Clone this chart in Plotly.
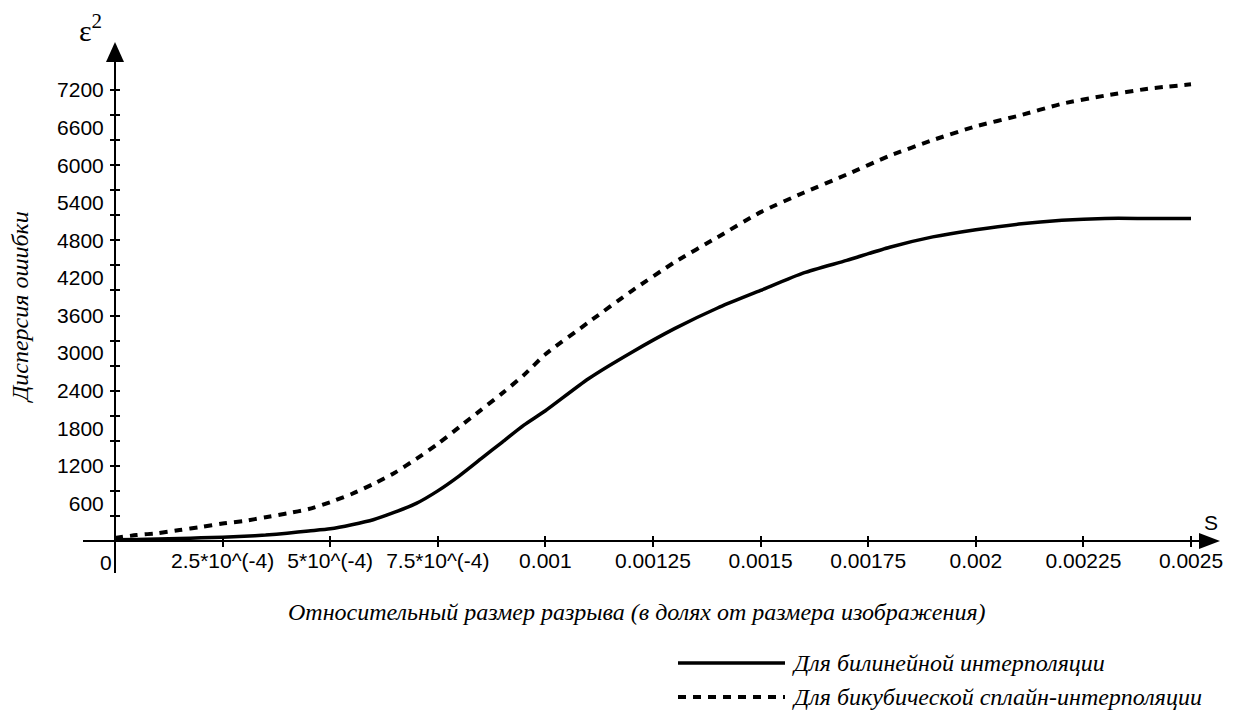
import plotly.graph_objects as go

# ---- data ----
s_values = [0, 0.00005, 0.0001, 0.00015, 0.0002, 0.00025, 0.0003, 0.00035, 0.0004, 0.00045,
            0.0005, 0.00055, 0.0006, 0.00065, 0.0007, 0.00075, 0.0008, 0.00085, 0.0009, 0.00095,
            0.001, 0.0011, 0.0012, 0.0013, 0.0014, 0.0015, 0.0016, 0.0017, 0.0018, 0.0019,
            0.002, 0.0021, 0.0022, 0.0023, 0.0024, 0.0025]
bilinear = [20, 25, 30, 40, 50, 60, 75, 95, 125, 160,
            195, 260, 340, 460, 600, 800, 1040, 1310, 1580, 1850,
            2080, 2590, 3010, 3390, 3720, 4000, 4280, 4480, 4690, 4855,
            4970, 5060, 5120, 5150, 5150, 5150]
bicubic = [50, 95, 125, 175, 225, 280, 320, 380, 440, 510,
           620, 750, 910, 1090, 1310, 1550, 1820, 2090, 2360, 2650,
           2980, 3490, 3990, 4450, 4850, 5250, 5560, 5850, 6150, 6400,
           6620, 6790, 6980, 7110, 7220, 7290]

x_tick_vals = [0.00025, 0.0005, 0.00075, 0.001, 0.00125, 0.0015, 0.00175, 0.002, 0.00225, 0.0025]
x_tick_text = ["2.5*10^(-4)", "5*10^(-4)", "7.5*10^(-4)", "0.001", "0.00125", "0.0015",
               "0.00175", "0.002", "0.00225", "0.0025"]
y_label_vals = [600, 1200, 1800, 2400, 3000, 3600, 4200, 4800, 5400, 6000, 6600, 7200]
y_minor_vals = [400 * i for i in range(1, 19)]

series_names = ["Для билинейной интерполяции", "Для бикубической сплайн-интерполяции"]
x_title = "Относительный размер разрыва (в долях от размера изображения)"
y_title = "Дисперсия ошибки"

# ---- layout geometry (screen pixels; the page body has an 8px margin) ----
W, H = 1233, 714
OFF = 8
L, R, T, B = 83, 1200, 60, 573
X0PX, XENDPX = 115, 1191      # pixel of s=0 and s=0.0025
Y0PX, YTOPPX = 541, 90        # pixel of 0 and 7200

kx = (XENDPX - X0PX) / 0.0025
ky = (Y0PX - YTOPPX) / 7200
x_range = [-(X0PX - L) / kx, (R - X0PX) / kx]
y_range = [-(B - Y0PX) / ky, (Y0PX - T) / ky]

def px(p):
    return (p - L) / (R - L)

def py(p):
    return (B - p) / (B - T)

xpos = (0 - y_range[0]) / (y_range[1] - y_range[0])   # paper y of x axis
ypos = (0 - x_range[0]) / (x_range[1] - x_range[0])   # paper x of y axis

tick_font = dict(family="Liberation Sans, Arial, sans-serif", size=21, color="black")
serif_it = "Liberation Serif, Times New Roman, serif"
TXT = 24

fig = go.Figure()
fig.add_trace(go.Scatter(x=s_values, y=bilinear, mode="lines", name=series_names[0],
                         line=dict(color="black", width=3.5, shape="spline", smoothing=0.6),
                         showlegend=False))
fig.add_trace(go.Scatter(x=s_values, y=bicubic, mode="lines", name=series_names[1],
                         line=dict(color="black", width=4, dash="8px,7px", shape="spline", smoothing=0.6),
                         showlegend=False))
# helper traces for tick overlay axes
fig.add_trace(go.Scatter(x=[None], y=[None], xaxis="x2", yaxis="y2", showlegend=False, hoverinfo="skip"))
fig.add_trace(go.Scatter(x=[None], y=[None], xaxis="x", yaxis="y3", showlegend=False, hoverinfo="skip"))

common = dict(showgrid=False, showline=False, automargin=False)
fig.update_layout(
    width=W - OFF, height=H - OFF,
    margin=dict(l=L - OFF, r=W - R, t=T - OFF, b=H - B, pad=0, autoexpand=False),
    plot_bgcolor="white", paper_bgcolor="white",
    xaxis=dict(range=x_range, anchor="free", position=xpos, tickmode="array",
               tickvals=x_tick_vals, ticktext=x_tick_text, ticks="outside", ticklen=5,
               tickwidth=1.5, tickcolor="black", tickfont=tick_font, ticklabelstandoff=-4,
               zeroline=True, zerolinecolor="black", zerolinewidth=2, **common),
    yaxis=dict(range=y_range, anchor="free", position=ypos, tickmode="array",
               tickvals=y_label_vals, ticktext=[str(v) for v in y_label_vals],
               ticks="outside", ticklen=6, tickcolor="rgba(0,0,0,0)", tickfont=tick_font,
               ticklabelstandoff=1,
               zeroline=True, zerolinecolor="black", zerolinewidth=2, **common),
    xaxis2=dict(range=x_range, overlaying="x", anchor="free", position=xpos, tickmode="array",
                tickvals=x_tick_vals, ticks="inside", ticklen=5, tickwidth=1.5, tickcolor="black",
                showticklabels=False, zeroline=False, **common),
    yaxis2=dict(range=y_range, overlaying="y", anchor="free", position=ypos, tickmode="array",
                tickvals=y_minor_vals, ticks="outside", ticklen=5, tickwidth=1.5, tickcolor="black",
                showticklabels=False, zeroline=False, **common),
    yaxis3=dict(range=y_range, overlaying="y", anchor="free", position=ypos, tickmode="array",
                tickvals=y_minor_vals, ticks="inside", ticklen=4, tickwidth=1.5, tickcolor="black",
                showticklabels=False, zeroline=False, **common),
)

shapes = [
    # y-axis arrow
    dict(type="path", xref="paper", yref="paper",
         path=f"M {px(X0PX)} {py(42)} L {px(X0PX - 9)} {py(62)} L {px(X0PX + 9)} {py(62)} Z",
         fillcolor="black", line=dict(width=0)),
    # x-axis arrow
    dict(type="path", xref="paper", yref="paper",
         path=f"M {px(1220)} {py(Y0PX)} L {px(1199)} {py(Y0PX - 8)} L {px(1199)} {py(Y0PX + 8)} Z",
         fillcolor="black", line=dict(width=0)),
    # legend samples
    dict(type="line", xref="paper", yref="paper", x0=px(678), x1=px(785), y0=py(663), y1=py(663),
         line=dict(color="black", width=3.5)),
    dict(type="line", xref="paper", yref="paper", x0=px(678), x1=px(785), y0=py(697), y1=py(697),
         line=dict(color="black", width=4, dash="8px,7px")),
]
fig.update_layout(shapes=shapes)

annotations = [
    dict(text="ε<sup>2</sup>", x=px(90), y=py(28), font=dict(family=serif_it, size=30, color="black")),
    dict(text="S", x=px(1211), y=py(522), font=dict(family="Liberation Sans, Arial, sans-serif", size=21, color="black")),
    dict(text="0", x=px(106), y=py(562), font=tick_font),
    dict(text=f"<i>{x_title}</i>", x=px(637), y=py(612), font=dict(family=serif_it, size=TXT, color="black")),
    dict(text=f"<i>{y_title}</i>", x=px(20), y=py(307), textangle=-90, font=dict(family=serif_it, size=TXT, color="black")),
    dict(text=f"<i>{series_names[0]}</i>", x=px(790), y=py(663), xanchor="left",
         font=dict(family=serif_it, size=TXT, color="black")),
    dict(text=f"<i>{series_names[1]}</i>", x=px(790), y=py(697), xanchor="left",
         font=dict(family=serif_it, size=TXT, color="black")),
]
for a in annotations:
    a.setdefault("xref", "paper")
    a.setdefault("yref", "paper")
    a.setdefault("showarrow", False)
    a.setdefault("xanchor", "center")
    a.setdefault("yanchor", "middle")
fig.update_layout(annotations=annotations)

fig.write_html("out.html")
